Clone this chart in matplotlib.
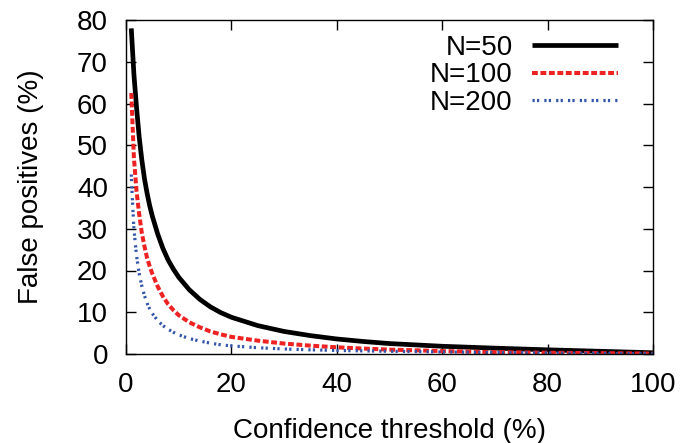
import matplotlib
matplotlib.use("Agg")
import matplotlib.pyplot as plt

plt.rcParams['font.family'] = ['Liberation Sans', 'DejaVu Sans']

# Data
x50 = [1, 1.5, 2, 2.5, 3, 3.5, 4, 4.5, 5, 6, 7, 8, 9, 10, 12, 14, 16, 18, 20,
       25, 30, 35, 40, 45, 50, 60, 70, 80, 90, 100]
y50 = [78, 67, 59, 52, 46.5, 42, 38.5, 35.5, 33, 28.8, 25.3, 22.5, 20.3, 18.4, 15.4, 13.1, 11.3, 9.9, 8.8,
       6.8, 5.4, 4.4, 3.6, 3.0, 2.5, 1.85, 1.4, 1.0, 0.65, 0.3]

x100 = [1, 1.5, 2, 2.5, 3, 3.5, 4, 4.5, 5, 6, 7, 8, 9, 10, 12, 14, 16, 18, 20,
        25, 30, 35, 40, 45, 50, 60, 70, 80, 90, 100]
y100 = [62.5, 47, 39, 33.5, 29, 25.8, 23, 21, 19.2, 16.2, 13.8, 11.9, 10.5, 9.3, 7.6, 6.4, 5.4, 4.7, 4.1,
        3.2, 2.5, 2.0, 1.6, 1.3, 1.05, 0.7, 0.45, 0.3, 0.2, 0.1]

x200 = [1, 1.25, 1.5, 2, 2.5, 3, 3.5, 4, 4.5, 5, 6, 7, 8, 9, 10, 12, 14, 16, 18, 20,
        25, 30, 35, 40, 50, 60, 70, 80, 90, 100]
y200 = [43, 36, 30, 23.5, 19.3, 16.3, 14, 12.2, 10.8, 9.7, 8.0, 6.8, 5.9, 5.2, 4.6, 3.7, 3.1, 2.6, 2.2, 1.95,
        1.5, 1.2, 1.0, 0.85, 0.65, 0.5, 0.37, 0.25, 0.14, 0.05]

labels = ["N=50", "N=100", "N=200"]
xticks = [0, 20, 40, 60, 80, 100]
yticks = [0, 10, 20, 30, 40, 50, 60, 70, 80]

fig = plt.figure(figsize=(6.82, 4.43), dpi=100)
ax = fig.add_axes([126/682, 1 - 354/443, (653-126)/682, (354-20)/443])

ax.plot(x50, y50, color='black', lw=3.4, solid_capstyle='butt', solid_joinstyle='round',
        label=labels[0])
ax.plot(x100, y100, color='#ee2222', lw=2.9, dashes=(1.45, 0.65), dash_capstyle='butt',
        label=labels[1])
ax.plot(x200, y200, color='#3355aa', lw=2.3, dashes=(0.7, 0.7, 0.7, 1.6),
        dash_capstyle='butt', label=labels[2])

ax.set_xlim(0, 100)
ax.set_ylim(0, 80)
ax.set_xticks(xticks)
ax.set_yticks(yticks)
ax.tick_params(direction='in', length=7, width=1, top=True, right=True,
               labelsize=20, pad=13)
for s in ax.spines.values():
    s.set_linewidth(1)

ax.set_xlabel("Confidence threshold (%)", fontsize=20, labelpad=14)
ax.set_ylabel("False positives (%)", fontsize=20, labelpad=24)

leg = ax.legend(loc='upper right', frameon=False, fontsize=20, markerfirst=False,
                handlelength=3.1, handletextpad=0.7, labelspacing=0.05,
                borderaxespad=0.2, bbox_to_anchor=(0.966, 1.005))

fig.savefig("out.png", dpi=100)
